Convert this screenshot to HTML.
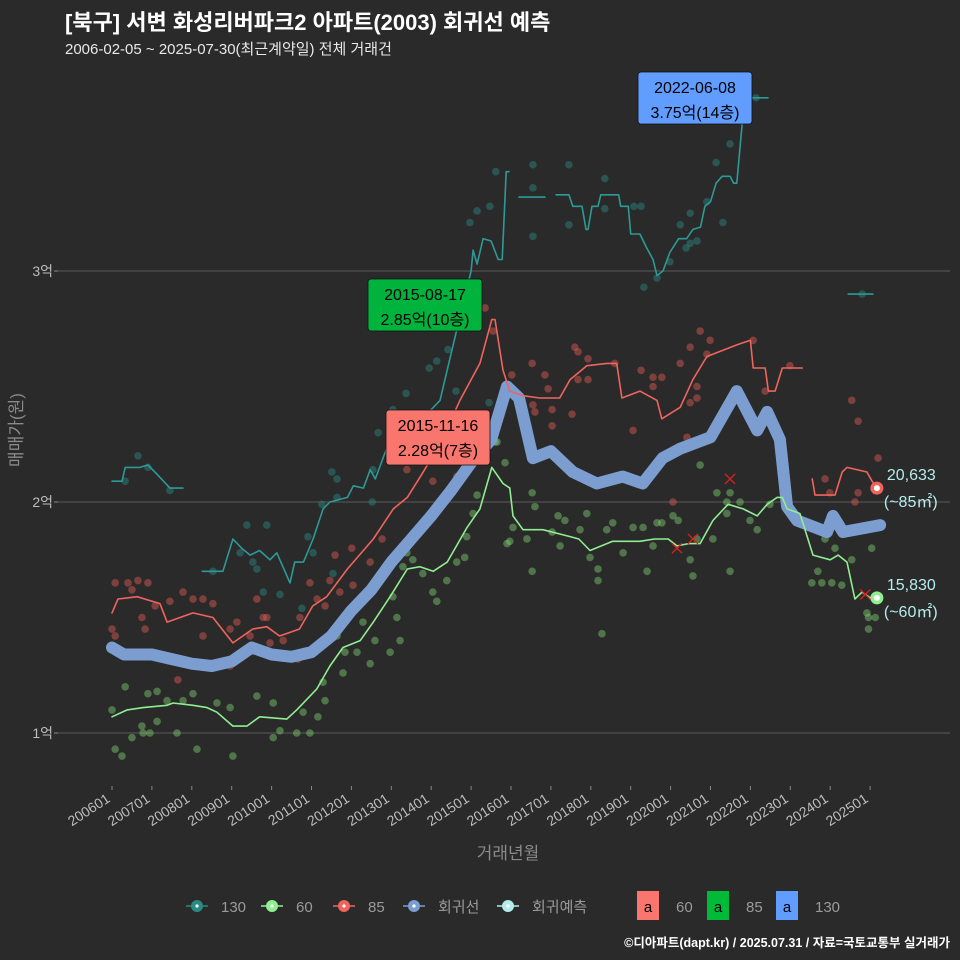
<!DOCTYPE html>
<html><head><meta charset="utf-8">
<style>
body{margin:0;background:#2a2a2a;width:960px;height:960px;overflow:hidden;font-family:"Liberation Sans","Noto Sans CJK KR",sans-serif;}
svg{display:block}
</style></head>
<body>
<svg id="chart" width="960" height="960" viewBox="0 0 960 960" xmlns="http://www.w3.org/2000/svg">
<rect x="0" y="0" width="960" height="960" fill="#2a2a2a"/>
<text x="65" y="30" fill="#ffffff" font-size="22" font-weight="bold" font-family="Liberation Sans, Noto Sans CJK KR, sans-serif">[북구] 서변 화성리버파크2 아파트(2003) 회귀선 예측</text>
<text x="65" y="54" fill="#e8e8e8" font-size="15" font-family="Liberation Sans, Noto Sans CJK KR, sans-serif">2006-02-05 ~ 2025-07-30(최근계약일) 전체 거래건</text>
<g id="grid"></g>
<g id="axes"></g>
<g id="marks"></g>
<g id="notes"></g>
<text x="0" y="0" transform="translate(22,430) rotate(-90)" text-anchor="middle" fill="#8a8a8a" font-size="17" font-family="Liberation Sans, Noto Sans CJK KR, sans-serif">매매가(원)</text>
<text x="508" y="859" text-anchor="middle" fill="#8a8a8a" font-size="17" font-family="Liberation Sans, Noto Sans CJK KR, sans-serif">거래년월</text>
<g id="legend"></g>
<text x="950" y="947" text-anchor="end" fill="#ffffff" font-size="12.5" font-weight="bold" font-family="Liberation Sans, Noto Sans CJK KR, sans-serif">©디아파트(dapt.kr) / 2025.07.31 / 자료=국토교통부 실거래가</text>
</svg>
<script>
// ---- data (t = decimal year, v = 억원) ----
const yTicks = [1, 2, 3];
const yTickLabels = ["1억", "2억", "3억"];
const xTicks = [2006,2007,2008,2009,2010,2011,2012,2013,2014,2015,2016,2017,2018,2019,2020,2021,2022,2023,2024,2025];
const xTickLabels = ["200601","200701","200801","200901","201001","201101","201201","201301","201401","201501","201601","201701","201801","201901","202001","202101","202201","202301","202401","202501"];

const regT = [2006.0,2006.3,2007.0,2007.5,2008.0,2008.5,2009.0,2009.5,2010.0,2010.5,2011.0,2011.5,2012.0,2012.5,2013.0,2013.5,2014.0,2014.5,2015.0,2015.5,2015.9,2016.2,2016.55,2017.0,2017.55,2018.15,2018.8,2019.3,2019.8,2020.23,2021.0,2021.66,2022.17,2022.42,2022.74,2022.92,2023.17,2023.92,2024.07,2024.32,2025.25];
const regV = [1.37,1.34,1.34,1.32,1.30,1.29,1.31,1.37,1.34,1.33,1.35,1.42,1.53,1.62,1.74,1.84,1.94,2.05,2.17,2.27,2.50,2.45,2.19,2.22,2.13,2.08,2.11,2.08,2.19,2.23,2.28,2.48,2.31,2.39,2.27,1.98,1.92,1.87,1.94,1.87,1.90];

const red1T = [2006.0,2006.15,2006.63,2007.2,2007.38,2008.03,2008.53,2009.03,2009.53,2009.88,2010.2,2010.7,2011.03,2011.38,2011.9,2012.55,2013.05,2013.4,2013.73,2014.22,2014.72,2015.22,2015.52,2015.6,2015.8,2015.97,2016.3,2016.72,2017.22,2017.48,2017.9,2018.4,2018.65,2018.78,2019.23,2019.66,2019.78,2020.24,2020.56,2020.91,2021.66,2022.0,2022.07,2022.37,2022.45,2022.62,2022.8,2023.3];
const red1V = [1.52,1.58,1.59,1.56,1.48,1.52,1.50,1.39,1.45,1.46,1.42,1.45,1.55,1.59,1.71,1.84,1.97,2.02,2.11,2.25,2.44,2.60,2.79,2.79,2.57,2.48,2.46,2.45,2.45,2.53,2.59,2.60,2.60,2.45,2.48,2.44,2.36,2.41,2.53,2.63,2.68,2.70,2.58,2.58,2.48,2.48,2.58,2.58];
const red2T = [2023.55,2023.62,2024.12,2024.3,2024.42,2024.92,2025.05,2025.17];
const red2V = [2.10,2.03,2.03,2.13,2.15,2.13,2.09,2.06];

const grnT = [2006.0,2006.38,2006.78,2007.38,2007.53,2008.03,2008.38,2008.63,2009.03,2009.38,2009.7,2010.38,2010.63,2011.13,2011.46,2011.79,2012.22,2012.55,2012.97,2013.4,2013.72,2014.05,2014.4,2014.9,2015.22,2015.52,2015.8,2015.97,2016.05,2016.3,2016.8,2017.48,2017.7,2017.98,2018.55,2019.23,2019.6,2019.94,2020.16,2020.45,2020.74,2021.06,2021.44,2021.82,2022.17,2022.42,2022.67,2022.8,2022.92,2023.24,2023.57,2024.0,2024.2,2024.42,2024.62,2024.8,2025.05,2025.17];
const grnV = [1.07,1.10,1.11,1.12,1.13,1.12,1.11,1.09,1.03,1.03,1.07,1.06,1.10,1.19,1.29,1.37,1.40,1.48,1.59,1.71,1.72,1.70,1.74,1.89,1.97,2.15,2.08,2.06,1.94,1.88,1.88,1.85,1.84,1.79,1.83,1.83,1.84,1.84,1.81,1.82,1.82,1.92,1.99,1.97,1.94,1.99,2.02,2.02,1.97,1.95,1.77,1.75,1.77,1.74,1.58,1.61,1.58,1.585];

const teal1T = [2006.0,2006.25,2006.33,2006.7,2006.9,2007.13,2007.45,2007.78];
const teal1V = [2.09,2.09,2.15,2.15,2.16,2.12,2.06,2.06];
const teal2T = [2008.26,2008.78,2009.03,2009.25,2009.46,2009.7,2009.96,2010.13,2010.46,2010.58,2010.8,2011.04,2011.29,2011.46,2011.9,2012.05,2012.3,2012.47,2012.6,2012.9,2013.3,2013.7,2014.0,2014.22,2014.62,2015.0,2015.05,2015.15,2015.3,2015.5,2015.68,2015.78,2015.88,2015.95];
const teal2V = [1.70,1.70,1.84,1.80,1.77,1.79,1.75,1.78,1.65,1.74,1.74,1.84,1.97,2.00,2.02,2.07,2.06,2.14,2.10,2.24,2.30,2.35,2.40,2.44,2.73,3.00,3.09,3.03,3.14,3.13,3.05,3.05,3.43,3.43];
const teal3T = [2016.2,2016.85];
const teal3V = [3.32,3.32];
const teal4T = [2017.13,2017.45,2017.55,2017.78,2017.88,2017.93,2018.03,2018.18,2018.25,2018.7,2018.75,2018.94,2019.0,2019.23,2019.4,2019.56,2019.66,2019.81,2019.98,2020.2,2020.4,2020.56,2020.75,2020.86,2021.0,2021.14,2021.29,2021.49,2021.58,2021.66,2021.79,2021.86,2022.44];
const teal4V = [3.33,3.33,3.28,3.28,3.18,3.18,3.28,3.28,3.33,3.33,3.28,3.28,3.16,3.16,3.10,3.05,2.98,3.00,3.08,3.14,3.14,3.18,3.19,3.28,3.30,3.38,3.41,3.41,3.38,3.38,3.63,3.75,3.75];
const teal5T = [2024.45,2025.07];
const teal5V = [2.90,2.90];

const grnPtT = [2006.08,2006.25,2006.0,2006.33,2006.5,2006.78,2006.95,2006.9,2006.75,2007.13,2007.13,2007.38,2007.63,2007.78,2008.13,2008.03,2008.63,2009.03,2008.96,2009.63,2010.04,2010.04,2010.21,2010.63,2010.96,2010.79,2011.16,2011.29,2011.34,2011.64,2011.79,2011.84,2012.14,2012.29,2012.47,2012.59,2012.97,2013.14,2013.22,2013.04,2013.39,2013.29,2013.54,2013.79,2014.14,2014.04,2014.39,2014.64,2014.84,2014.89,2015.05,2015.15,2015.65,2015.9,2015.85,2015.6,2016.05,2015.97,2016.53,2016.6,2016.4,2016.53,2017.03,2017.18,2017.35,2017.23,2017.73,2017.9,2017.98,2018.18,2018.18,2018.4,2018.55,2018.81,2019.06,2019.31,2019.41,2019.66,2019.56,2019.78,2020.06,2020.19,2020.49,2020.56,2020.74,2020.66,2021.06,2021.16,2021.41,2021.49,2021.41,2021.49,2021.74,2021.99,2022.17,2022.49,2023.54,2023.69,2023.79,2024.04,2024.29,2023.87,2024.12,2024.54,2025.04,2024.92,2024.96,2025.13,2024.96,2018.28];
const grnPtV = [0.93,0.90,1.10,1.20,0.98,1.00,1.00,1.17,1.03,1.05,1.18,1.14,1.00,1.14,0.93,1.17,1.13,0.90,1.11,1.16,1.13,0.98,1.01,1.00,1.00,1.09,1.07,1.22,1.14,1.42,1.26,1.35,1.35,1.48,1.30,1.40,1.35,1.50,1.40,1.59,1.78,1.72,1.75,1.69,1.57,1.61,1.66,1.74,1.76,1.85,1.95,2.03,2.26,1.82,2.17,2.26,1.89,1.83,2.04,1.98,1.84,1.70,1.87,1.94,1.92,1.81,1.88,1.95,1.76,1.71,1.66,1.88,1.91,1.78,1.89,1.89,1.70,1.91,1.81,1.91,1.94,1.92,1.75,1.68,2.16,1.84,1.84,2.04,2.00,2.04,1.95,1.70,2.00,1.92,1.88,1.99,1.65,1.70,1.65,1.65,1.64,1.84,1.80,1.75,1.80,1.52,1.50,1.50,1.45,1.43];

const redPtT = [2006.08,2006.4,2006.65,2006.9,2006.5,2006.0,2006.08,2006.75,2006.83,2007.08,2007.45,2007.78,2007.65,2008.03,2008.28,2008.53,2008.28,2008.96,2009.13,2009.46,2008.96,2009.63,2009.79,2009.88,2009.96,2010.29,2010.66,2010.71,2010.96,2011.14,2011.34,2011.59,2011.46,2011.71,2012.01,2012.04,2012.47,2012.77,2013.39,2014.64,2014.04,2015.35,2015.55,2016.02,2016.53,2016.85,2016.55,2016.6,2016.93,2017.03,2017.03,2017.53,2017.6,2017.68,2017.68,2017.93,2017.93,2018.6,2019.06,2019.26,2019.56,2019.78,2019.56,2020.24,2020.41,2020.49,2020.74,2020.99,2020.91,2020.66,2020.66,2020.49,2022.07,2022.37,2022.99,2024.54,2024.7,2024.7,2024.62,2025.2,2023.87,2023.99,2020.06];
const redPtV = [1.65,1.65,1.66,1.65,1.62,1.45,1.42,1.50,1.45,1.55,1.57,1.61,1.23,1.58,1.58,1.56,1.42,1.45,1.48,1.42,1.29,1.58,1.50,1.50,1.39,1.40,1.32,1.50,1.65,1.58,1.55,1.77,1.66,1.61,1.80,1.64,1.74,1.84,2.14,2.11,2.09,2.84,2.74,2.55,2.60,2.55,2.42,2.39,2.49,2.40,2.33,2.38,2.67,2.65,2.53,2.62,2.53,2.60,2.31,2.57,2.54,2.54,2.50,2.60,2.28,2.67,2.74,2.70,2.64,2.50,2.45,2.43,2.70,2.48,2.59,2.44,2.35,2.04,2.00,2.19,2.10,2.04,2.00];

const tealPtT = [2006.65,2006.33,2006.9,2007.45,2008.53,2009.38,2009.88,2009.21,2009.53,2009.63,2009.79,2010.21,2010.76,2010.91,2011.04,2011.26,2011.51,2011.64,2011.64,2012.52,2012.54,2012.67,2013.04,2011.54,2013.95,2014.14,2014.42,2013.37,2014.62,2015.45,2014.97,2015.15,2015.47,2015.62,2016.55,2016.55,2016.55,2017.45,2017.45,2018.35,2018.35,2019.08,2019.26,2019.33,2019.66,2019.98,2020.24,2020.49,2020.39,2020.49,2020.66,2020.91,2021.14,2021.31,2021.49,2022.14,2024.8];
const tealPtV = [2.20,2.09,2.15,2.05,1.70,1.90,1.90,1.78,1.74,1.71,1.61,1.60,1.54,1.85,1.78,1.99,2.13,2.10,2.02,2.00,2.14,2.30,2.40,1.69,2.58,2.61,2.66,2.47,2.48,2.43,3.21,3.26,3.28,3.43,3.46,3.36,3.15,3.46,3.20,3.40,3.27,3.28,3.28,2.93,2.97,3.04,3.20,3.25,3.10,3.12,3.13,3.30,3.47,3.21,3.55,3.75,2.90];

const cancelT = [2021.49,2020.56,2020.16,2024.88];
const cancelV = [2.10,1.84,1.80,1.60];

// ---- scales ----
const X0 = 112, PXY = 39.9, Y1 = 733, PXV = 231;
function sx(t){ return X0 + (t - 2006) * PXY; }
function sy(v){ return Y1 - (v - 1) * PXV; }

const NS = "http://www.w3.org/2000/svg";
function mk(tag, attrs, parent){
  const e = document.createElementNS(NS, tag);
  for (const k in attrs) e.setAttribute(k, attrs[k]);
  parent.appendChild(e);
  return e;
}
const grid = document.getElementById('grid');
const axes = document.getElementById('axes');
const marks = document.getElementById('marks');
const notes = document.getElementById('notes');
const legend = document.getElementById('legend');
const FONT = "Liberation Sans, Noto Sans CJK KR, sans-serif";

yTicks.forEach((v, i) => {
  const g = mk('line', {x1:58, x2:950, y1:sy(v), y2:sy(v), stroke:'#5a5a5a', 'stroke-width':1}, grid);
  
  
  const tk = mk('line', {x1:54, x2:58, y1:sy(v), y2:sy(v), stroke:'#888', 'stroke-width':1}, axes);
  
  
  const lb = mk('text', {x:53, y:sy(v)+5, 'text-anchor':'end', fill:'#bdbdbd', 'font-size':14, 'font-family':FONT}, axes);
  lb.textContent = yTickLabels[i];
  
  
});
xTicks.forEach((t, i) => {
  const x = sx(t);
  const tk = mk('line', {x1:x, x2:x, y1:786, y2:790, stroke:'#888', 'stroke-width':1}, axes);
  
  
  const lb = mk('text', {x:0, y:0, transform:'translate('+(x-1)+',801) rotate(-33)', 'text-anchor':'end', fill:'#bdbdbd', 'font-size':14, 'font-family':FONT}, axes);
  lb.textContent = xTickLabels[i];
  
  
});

function pts(T, V){ return T.map((t,i)=> sx(t).toFixed(1)+','+sy(V[i]).toFixed(1)).join(' '); }
function scatter(T, V, fill, name){
  T.forEach((t,i)=>{
    const c = mk('circle', {cx:sx(t), cy:sy(V[i]), r:3.8, fill:fill, 'fill-opacity':0.45}, marks);
    
    
  });
}
function line(T, V, color, w, name){
  const p = mk('polyline', {points:pts(T,V), fill:'none', stroke:color, 'stroke-width':w, 'stroke-linejoin':'round', 'stroke-linecap':'round'}, marks);
  
  
}

scatter(tealPtT, tealPtV, '#2a8a84', 'point-130');
scatter(redPtT, redPtV, '#e35a55', 'point-85');
scatter(grnPtT, grnPtV, '#80d070', 'point-60');

line(regT, regV, '#7b9dd0', 12, 'regression-line');
line(teal1T, teal1V, '#2d9a96', 1.6, 'line-130-a');
line(teal2T, teal2V, '#2d9a96', 1.6, 'line-130-b');
line(teal3T, teal3V, '#2d9a96', 1.6, 'line-130-c');
line(teal4T, teal4V, '#2d9a96', 1.6, 'line-130-d');
line(teal5T, teal5V, '#2d9a96', 1.6, 'line-130-e');
line(red1T, red1V, '#f0645e', 1.6, 'line-85-a');
line(red2T, red2V, '#f0645e', 1.6, 'line-85-b');
line(grnT, grnV, '#90ee90', 1.6, 'line-60');

cancelT.forEach((t,i)=>{
  const x = sx(t), y = sy(cancelV[i]);
  const p = mk('path', {d:'M'+(x-5)+','+(y-5)+'L'+(x+5)+','+(y+5)+'M'+(x+5)+','+(y-5)+'L'+(x-5)+','+(y+5), stroke:'#e0201a', 'stroke-width':1.3, fill:'none'}, marks);
  
  
});

const ends = [[red2T[red2T.length-1], red2V[red2V.length-1], '#f0645e', '20,633', '(~85㎡)'], [grnT[grnT.length-1], grnV[grnV.length-1], '#90ee90', '15,830', '(~60㎡)']];
ends.forEach(e=>{
  const x = sx(e[0]), y = sy(e[1]);
  const c = mk('circle', {cx:x, cy:y, r:6.5, fill:e[2]}, notes);
  
  
  const c2 = mk('circle', {cx:x, cy:y, r:3, fill:'#ffffff'}, notes);
  
  
  const t1 = mk('text', {x:x+10, y:y-8, fill:'#b4ecec', 'font-size':16, 'font-family':FONT}, notes);
  t1.textContent = e[3];
  
  
  const t2 = mk('text', {x:x+7, y:y+19, fill:'#b4ecec', 'font-size':16, 'font-family':FONT}, notes);
  t2.textContent = e[4];
  
  
});

const boxes = [[368,279,114,52,'#00b33c','2015-08-17','2.85억(10층)','max-label-85'],[386,410,104,55,'#f8766d','2015-11-16','2.28억(7층)','max-label-60'],[638,72,114,52,'#619cff','2022-06-08','3.75억(14층)','max-label-130']];
boxes.forEach(b=>{
  const g = mk('g', {}, notes);
  
  
  mk('rect', {x:b[0], y:b[1], width:b[2], height:b[3], rx:3, fill:b[4], stroke:'#111', 'stroke-width':0.8}, g);
  const t1 = mk('text', {x:b[0]+b[2]/2, y:b[1]+21, 'text-anchor':'middle', fill:'#000', 'font-size':16, 'font-family':FONT}, g);
  t1.textContent = b[5];
  const t2 = mk('text', {x:b[0]+b[2]/2, y:b[1]+46, 'text-anchor':'middle', fill:'#000', 'font-size':16, 'font-family':FONT}, g);
  t2.textContent = b[6];
});

const legItems = [[197,'#2a8a84','130'],[272,'#90ee90','60'],[344,'#f0645e','85'],[414,'#7b9dd0','회귀선'],[508,'#b4ecec','회귀예측']];
legItems.forEach(l=>{
  const g = mk('g', {}, legend);
  
  
  mk('line', {x1:l[0]-11, x2:l[0]+11, y1:906, y2:906, stroke:l[1], 'stroke-width':1.6}, g);
  mk('circle', {cx:l[0], cy:906, r:6, fill:l[1]}, g);
  mk('circle', {cx:l[0], cy:906, r:1.6, fill:'#fff'}, g);
  const t = mk('text', {x:l[0]+24, y:912, fill:'#9a9a9a', 'font-size':15, 'font-family':FONT}, g);
  t.textContent = l[2];
});
const legBoxes = [[637,'#f8766d','60'],[707,'#00ba38','85'],[776,'#619cff','130']];
legBoxes.forEach(l=>{
  const g = mk('g', {}, legend);
  
  
  mk('rect', {x:l[0], y:891, width:22, height:29, fill:l[1]}, g);
  const a = mk('text', {x:l[0]+11, y:912, 'text-anchor':'middle', fill:'#000', 'font-size':15, 'font-family':FONT}, g);
  a.textContent = 'a';
  const t = mk('text', {x:l[0]+39, y:912, fill:'#9a9a9a', 'font-size':15, 'font-family':FONT}, g);
  t.textContent = l[2];
});
</script>
</body></html>
